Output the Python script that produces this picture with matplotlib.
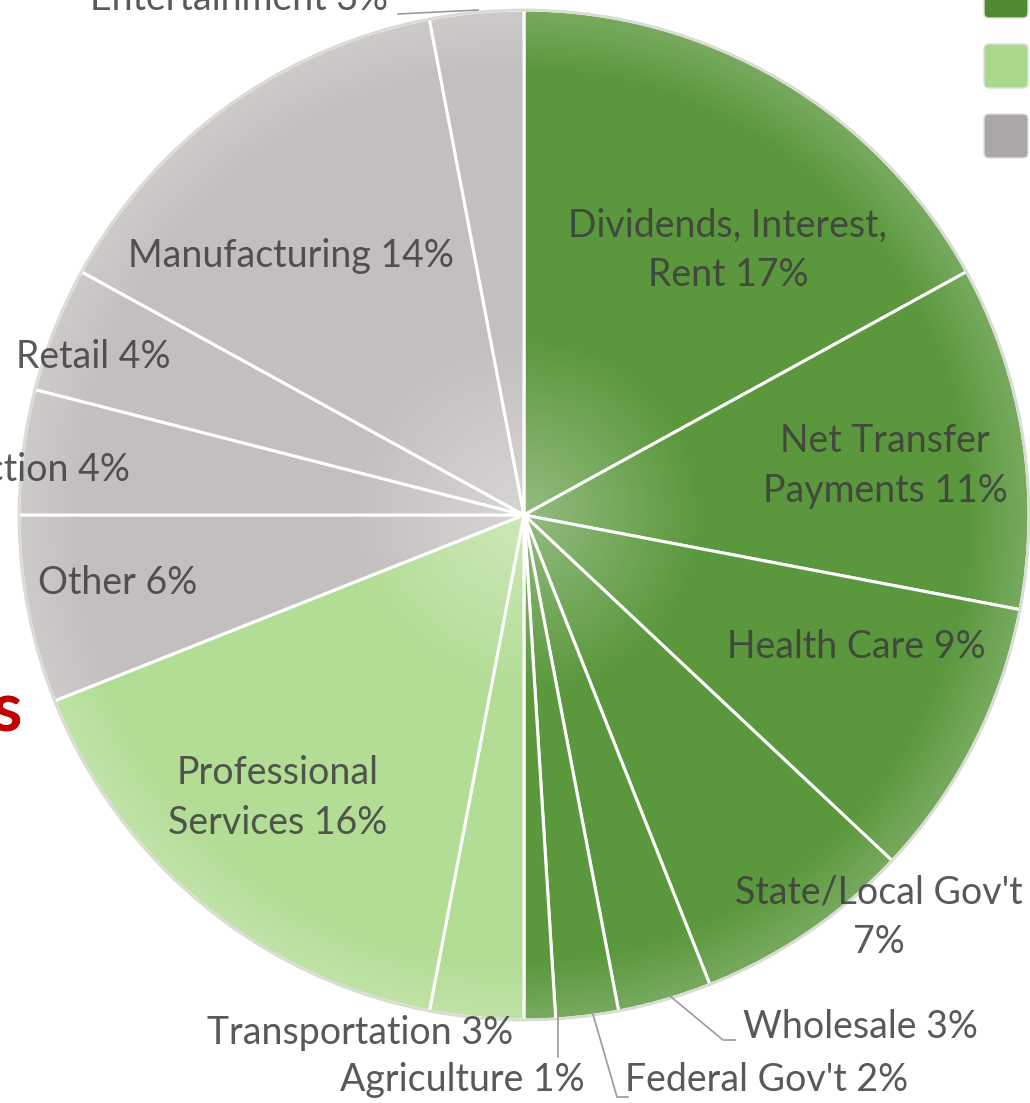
import matplotlib.pyplot as plt
import numpy as np
from matplotlib.patches import FancyBboxPatch

# Sektoren im Uhrzeigersinn ab 12 Uhr
sectors = ["Dividends, Interest,\nRent", "Net Transfer\nPayments", "Health Care",
           "State/Local Gov't\n", "Wholesale", "Federal Gov't", "Agriculture",
           "Transportation", "Professional\nServices", "Other", "Construction",
           "Retail", "Manufacturing", "Entertainment"]
shares = [17, 11, 9, 7, 3, 2, 1, 3, 16, 6, 4, 4, 14, 3]
groups = [0, 0, 0, 0, 0, 0, 0, 1, 1, 2, 2, 2, 2, 2]

group_colors = ["#5b983d", "#b3dc95", "#c4bfbf"]
legend_colors = ["#4f8a32", "#a9d98b", "#aaa6a6"]

# Layout in Bildpixeln (x, y von oben)
cx, cy, R = 524, 515, 505
label_pos = [(728, 250), (885, 466), (856, 647), (879, 917), (860, 1027),
             (767, 1080), (462, 1080), (360, 1033), (278, 798), (118, 583),
             (130, 470), (93, 357), (291, 256), (239, -1)]
label_ha = ["center"] * 10 + ["right"] + ["center"] * 3
leaders = {4: [(670, 996), (723, 1040), (735, 1040)],
           5: [(592, 1011), (617, 1097), (628, 1097)],
           6: [(558, 1014), (558, 1057)],
           13: [(398, 14), (478, 10)]}

fig = plt.figure(figsize=(10.3, 11.03), dpi=100)
ax = fig.add_axes([0, 0, 1, 1])

colors = [group_colors[g] for g in groups]
wedges, _ = ax.pie(shares, colors=colors, startangle=-90, counterclock=True,
                   center=(cx, cy), radius=R,
                   wedgeprops=dict(edgecolor="white", linewidth=2.2))

# leichter Glanz zur Mitte hin (Bevel-Effekt grob angedeutet)
yy, xx = np.mgrid[0:1103, 0:1030]
rr = np.hypot(xx - cx, yy - cy) / R
glow = np.zeros((1103, 1030, 4))
glow[..., :3] = 1.0
glow[..., 3] = np.clip(0.35 * (1 - rr / 0.35), 0, None) + np.clip(0.18 * (rr - 0.88) / 0.12, 0, 0.18)
im = ax.imshow(glow, extent=(0, 1030, 1103, 0), zorder=1.5)
im.set_clip_path(plt.Circle((cx, cy), R, transform=ax.transData))
for w in wedges:
    w.set_zorder(1)
ax.add_patch(plt.Circle((cx, cy), R, fill=False, edgecolor="#d8dcd2", lw=2, zorder=2))

for i, (name, val) in enumerate(zip(sectors, shares)):
    if name.endswith("\n"):
        txt = name + f"{val}%"
    else:
        txt = f"{name} {val}%"
    x, y = label_pos[i]
    ax.text(x, y, txt, ha=label_ha[i], va="center", fontsize=27,
            family=["Lato", "DejaVu Sans"], color="#3c3c3c", alpha=0.85,
            linespacing=1.45, zorder=3)

for pts in leaders.values():
    xs, ys = zip(*pts)
    ax.plot(xs, ys, color="#9a9a9a", lw=1.2, zorder=3)

# Legende (Beschriftung liegt ausserhalb des Ausschnitts)
for k, c in enumerate(legend_colors):
    top = -27 + 70 * k
    ax.add_patch(FancyBboxPatch((986, top + 3), 40, 40,
                                boxstyle="round,pad=2,rounding_size=5",
                                facecolor=c, edgecolor="#e0e0e0", lw=1))

# abgeschnittener roter Folientext
ax.text(22, 712, "s", ha="right", va="center", fontsize=50, fontweight="bold",
        color="#c00000", family=["Lato", "DejaVu Sans"])

ax.set_xlim(0, 1030)
ax.set_ylim(1103, 0)
ax.set_aspect("auto")
ax.axis("off")

plt.savefig("out.png", dpi=100, facecolor="white")
